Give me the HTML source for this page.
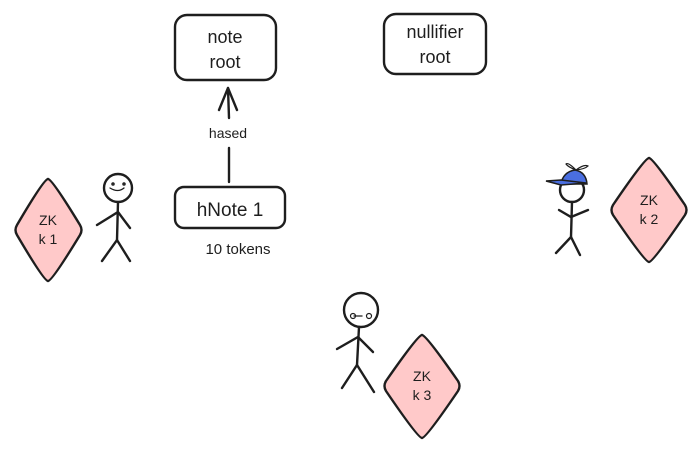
<!DOCTYPE html>
<html><head><meta charset="utf-8"><style>
html,body{margin:0;padding:0;background:#fff;}
svg{display:block;}
text{font-family:"Liberation Sans",sans-serif;fill:#1e1e1e;text-anchor:middle;}
</style></head><body>
<svg width="700" height="452" viewBox="0 0 700 452" xmlns="http://www.w3.org/2000/svg">
<g fill="none" stroke="#1e1e1e" stroke-width="2.4" stroke-linecap="round" stroke-linejoin="round">
<rect x="175" y="15" width="101" height="65" rx="12"/>
<rect x="384" y="14" width="102" height="60" rx="12"/>
<rect x="175" y="187" width="110" height="41" rx="9"/>
<line x1="229" y1="182" x2="229" y2="148"/>
<line x1="229" y1="118" x2="228" y2="88"/>
<polyline points="219,110 228,88 237,110"/>
</g>
<text x="225" y="43" font-size="18">note</text>
<text x="225" y="68" font-size="18">root</text>
<text x="435" y="38" font-size="18">nullifier</text>
<text x="435" y="63" font-size="18">root</text>
<text x="230" y="216" font-size="19">hNote 1</text>
<text x="238" y="254" font-size="15">10 tokens</text>
<text x="228" y="138" font-size="14">hased</text>
<g fill="#ffc9c9" stroke="#1e1e1e" stroke-width="2.4" stroke-linejoin="round">
<path d="M48,179 Q52,179 80,225 Q83,230 80,235 Q52,281 48,281 Q44,281 17,235 Q14,230 17,225 Q44,179 48,179Z"/>
<path d="M649,158 Q653,158 685,205 Q688,210 685,215 Q653,262 649,262 Q645,262 613,215 Q610,210 613,205 Q645,158 649,158Z"/>
<path d="M422,335 Q426,335 458,381 Q461,386 458,391 Q426,438 422,438 Q418,438 386,391 Q383,386 386,381 Q418,335 422,335Z"/>
</g>
<text x="48" y="225" font-size="14">ZK</text>
<text x="48" y="244" font-size="14">k 1</text>
<text x="649" y="205" font-size="14">ZK</text>
<text x="649" y="224" font-size="14">k 2</text>
<text x="422" y="381" font-size="14">ZK</text>
<text x="422" y="400" font-size="14">k 3</text>
<g fill="none" stroke="#1e1e1e" stroke-width="2.4" stroke-linecap="round">
<circle cx="118" cy="188" r="14"/>
<path d="M110,188 q8,5 14,0" stroke-width="1.3"/>
<circle cx="113" cy="184" r="1" stroke-width="1.5"/><circle cx="124" cy="184" r="1" stroke-width="1.5"/>
<line x1="118" y1="202" x2="117" y2="240"/>
<polyline points="97,225 118,212 130,228"/>
<polyline points="102,261 117,240 130,261"/>
<circle cx="572" cy="190" r="12"/>
<line x1="572" y1="202" x2="571" y2="237"/>
<polyline points="559,210 571,217 588,210"/>
<polyline points="556,253 571,237 580,255"/>
<circle cx="361" cy="310" r="17"/>
<path d="M354,316 h8" stroke-width="1.3"/>
<circle cx="353" cy="316" r="2.5" stroke-width="1.2"/><circle cx="369" cy="316" r="2.5" stroke-width="1.2"/>
<line x1="359" y1="327" x2="357" y2="365"/>
<polyline points="337,349 358,337 373,352"/>
<polyline points="342,388 357,365 374,392"/>
</g>
<path d="M561,184 Q563,172 575,170 Q586,172 587,184 Z" fill="#4a6ee0" stroke="#1e1e1e" stroke-width="1.5"/>
<path d="M546,181 L561,180 L586,183 L561,185 Z" fill="#4a6ee0" stroke="#1e1e1e" stroke-width="1.5"/>
<path d="M576,170 q-8,-8 -10,-6 q2,3 10,6 q8,-6 12,-4 q-3,3 -12,4" fill="none" stroke="#1e1e1e" stroke-width="1.2"/>
</svg>
</body></html>
